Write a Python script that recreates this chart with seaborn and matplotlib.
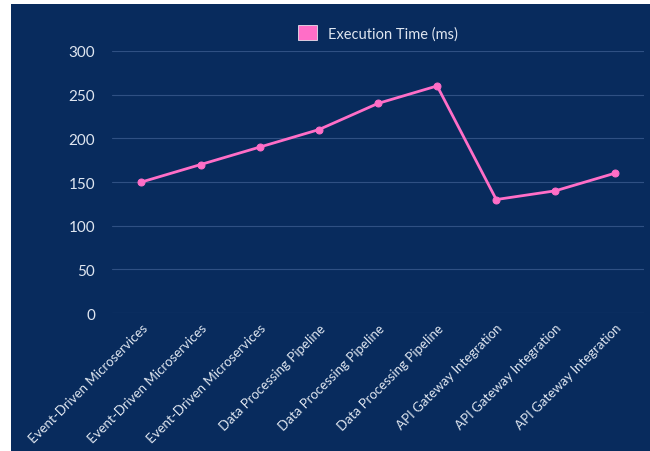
import matplotlib
matplotlib.use("Agg")
import matplotlib.pyplot as plt
import seaborn as sns
import pandas as pd
from matplotlib.patches import Rectangle, Patch

# Datos del gráfico
proyectos = [
    "Event-Driven Microservices", "Event-Driven Microservices", "Event-Driven Microservices",
    "Data Processing Pipeline", "Data Processing Pipeline", "Data Processing Pipeline",
    "API Gateway Integration", "API Gateway Integration", "API Gateway Integration",
]
tiempos = [150, 170, 190, 210, 240, 260, 130, 140, 160]

df = pd.DataFrame({"pos": range(len(proyectos)), "Execution Time (ms)": tiempos})

fondo = "#082b5d"
rosa = "#ff6ec7"
texto = "#dfe6f0"

sns.set_theme(style="dark")
plt.rcParams["font.family"] = ["Lato", "DejaVu Sans"]

fig = plt.figure(figsize=(6.5, 4.52), dpi=100, facecolor="white")
# fondo azul con el borde blanco a la izquierda y arriba
fig.patches.append(Rectangle((11 / 650, 0), 1, 1 - 5 / 452, transform=fig.transFigure,
                             facecolor=fondo, edgecolor="none", zorder=-10))
ax = fig.add_axes([0.172, 0.305, 0.819, 0.58])
ax.set_facecolor(fondo)

sns.lineplot(data=df, x="pos", y="Execution Time (ms)", color=rosa, linewidth=2,
             marker="o", markersize=5, markeredgecolor=rosa, ax=ax)

ax.set_xlim(-0.5, len(proyectos) - 0.5)
ax.set_ylim(0, 300)
ax.set_yticks(range(0, 301, 50))
ax.set_xticks(range(len(proyectos)))
ax.set_xticklabels(proyectos, rotation=45, ha="right", rotation_mode="anchor",
                   fontsize=9.5, color=texto)
ax.tick_params(axis="y", labelsize=11, labelcolor=texto, pad=12, length=0)
ax.tick_params(axis="x", length=0, pad=6)
ax.grid(axis="y", color="#2f5083", linewidth=0.8)
ax.grid(axis="x", visible=False)
ax.set_xlabel("")
ax.set_ylabel("")
for s in ax.spines.values():
    s.set_visible(False)

ax.legend(handles=[Patch(facecolor=rosa, edgecolor="white", linewidth=0.5, label="Execution Time (ms)")],
          loc="lower center", bbox_to_anchor=(0.5, 0.99), frameon=False,
          handlelength=1.3, handleheight=1.3, fontsize=10.5, labelcolor=texto)

fig.savefig("out.png", dpi=100, facecolor=fig.get_facecolor())
